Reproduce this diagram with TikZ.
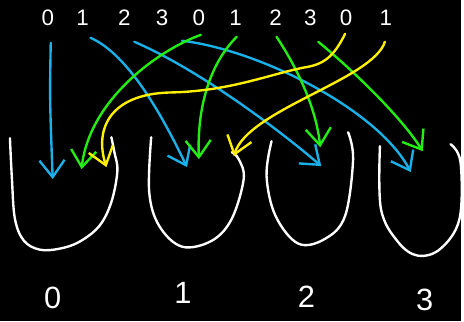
\documentclass[tikz,border=0pt]{standalone}
\usepackage{fontspec}
\setmainfont{Liberation Sans}
\usetikzlibrary{arrows.meta}
\definecolor{chalkblue}{RGB}{26,176,232}
\definecolor{chalkgreen}{RGB}{34,238,17}
\definecolor{chalkyellow}{RGB}{255,240,0}
\tikzset{
  bin/.style={white,line width=1.7pt,line cap=round,line join=round},
  hop/.style={line width=1.7pt,line cap=round,line join=round,-{Straight Barb[length=12pt,width=18pt]}},
  key/.style={white,font=\fontsize{16}{16}\selectfont},
  slot/.style={white,font=\fontsize{22}{22}\selectfont}
}

\begin{document}
\begin{tikzpicture}[x=0.025cm,y=-0.025cm]
\fill[black] (0,0) rectangle (464,323);
% keys, buckets
\foreach \i/\x/\lab in {0/48/0,1/83/1,2/125/2,3/163/3,4/200/0,5/237/1,6/277/2,7/312/3,8/348/0,9/388/1}
  \node[key] (t\i) at (\x,18) {\lab};
\foreach \i/\x/\y in {0/53/300,1/184/295,2/308/298,3/427/302}
  \node[slot] (b\i) at (\x,\y) {\i};
\draw[bin] plot[smooth,tension=0.6] coordinates {(10,139) (12,180) (15,220) (24,242) (40,251) (60,250) (80,243) (100,227) (112,203) (118,172) (115,153) (112,138)};
\draw[bin] plot[smooth,tension=0.6] coordinates {(152,138) (150,193) (160,227) (183,248) (213,242) (233,220) (245,180) (240,160) (233,153)};
\draw[bin] plot[smooth,tension=0.6] coordinates {(273,142) (268,177) (277,217) (300,245) (327,240) (347,217) (355,160) (350,133)};
\draw[bin] plot[smooth,tension=0.6] coordinates {(382,147) (383,210) (400,243) (420,257) (443,250) (462,220) (463,163) (453,145)};
% where each key lands
\coordinate (s0) at (51,43);   \coordinate (e0) at (53,180);
\coordinate (s1) at (91,38);   \coordinate (e1) at (188,168);
\coordinate (s2) at (135,42);  \coordinate (e2) at (323,167);
\coordinate (s3) at (183,41);  \coordinate (e3) at (413,173);
\coordinate (s4) at (202,35);  \coordinate (e4) at (82,170);
\coordinate (s5) at (238,37);  \coordinate (e5) at (200,160);
\coordinate (s6) at (278,37);  \coordinate (e6) at (322,148);
\coordinate (s7) at (320,42);  \coordinate (e7) at (425,152);
\coordinate (s8) at (347,34);  \coordinate (e8) at (107,168);
\coordinate (s9) at (387,42);  \coordinate (e9) at (235,157);
\draw[hop,chalkblue] (s0) .. controls (50,100) .. (e0);
\draw[hop,chalkblue] (s1) .. controls (130,55) and (165,120) .. (e1);
\draw[hop,chalkblue] (s2) .. controls (200,70) and (280,130) .. (e2);
\draw[hop,chalkblue] (s3) .. controls (260,50) and (380,110) .. (e3);
\draw[hop,chalkgreen] (s4) .. controls (160,50) and (90,100) .. (e4);
\draw[hop,chalkgreen] (s5) .. controls (210,65) and (198,110) .. (e5);
\draw[hop,chalkgreen] (s6) .. controls (300,70) and (318,110) .. (e6);
\draw[hop,chalkgreen] (s7) .. controls (360,75) and (405,120) .. (e7);
\draw[hop,chalkyellow] (s8) .. controls (335,58) and (325,65) .. (305,68)
  .. controls (270,75) and (230,92) .. (170,93) .. controls (110,95) and (95,130) .. (e8);
\draw[hop,chalkyellow] (s9) .. controls (375,80) and (250,110) .. (e9);
\end{tikzpicture}
\end{document}
